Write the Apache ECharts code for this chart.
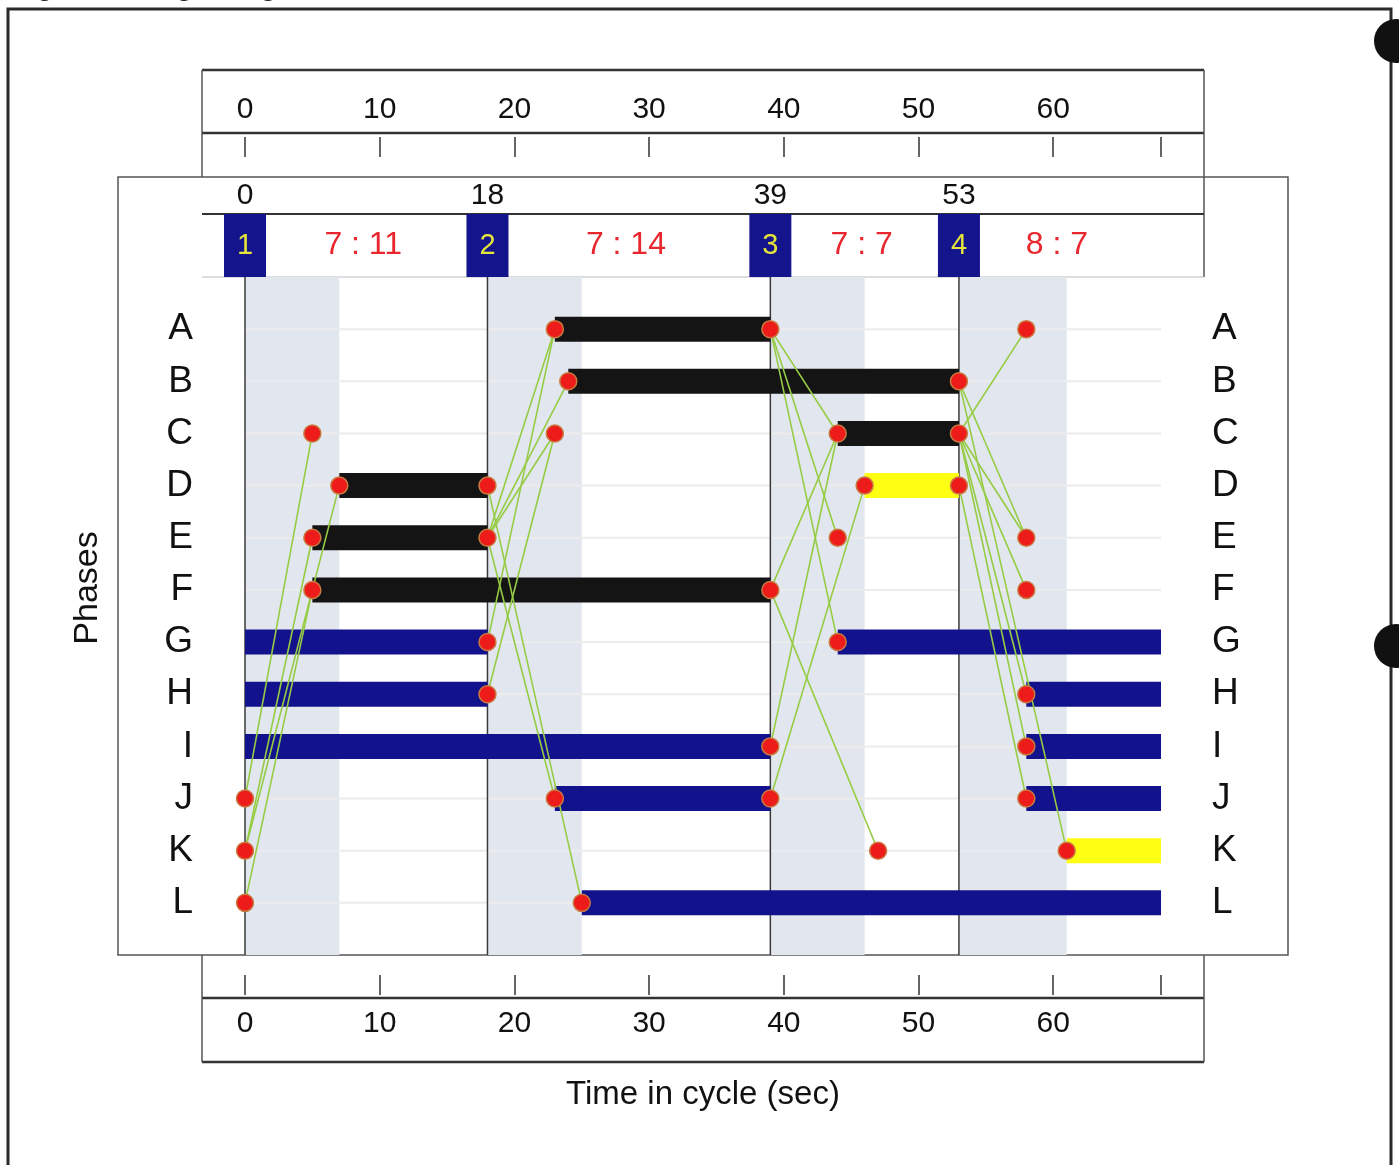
<!DOCTYPE html>
<html><head><meta charset="utf-8">
<script src="https://cdn.jsdelivr.net/npm/echarts@6/dist/echarts.min.js"></script>
<style>html,body{margin:0;padding:0;background:#fff}#c{width:1399px;height:1165px}</style>
</head><body><div id="c"></div>
<script>
// ---------- DATA ----------
const phases = ['A','B','C','D','E','F','G','H','I','J','K','L'];
const cycleLength = 68;
const stageNumbers = [1, 2, 3, 4];
const stageStarts = [0, 18, 39, 53];
const interstageTimes = [7, 7, 7, 8];
const greenTimes = [11, 14, 7, 7];
const axisTickStep = 10;

// [phase, start, end]
const blackBars = [['A',23,39],['B',24,53],['C',44,53],['D',7,18],['E',5,18],['F',5,39]];
const blueBars = [['G',0,18],['G',44,68],['H',0,18],['H',58,68],['I',0,39],['I',58,68],
                  ['J',23,39],['J',58,68],['L',25,68]];
const yellowBars = [['D',46,53],['K',61,68]];
// [phase, time]
const dots = [['A',23],['A',39],['A',58],['B',24],['B',53],['C',5],['C',23],['C',44],['C',53],
  ['D',7],['D',18],['D',46],['D',53],['E',5],['E',18],['E',44],['E',58],['F',5],['F',39],['F',58],
  ['G',18],['G',44],['H',18],['H',58],['I',39],['I',58],['J',0],['J',23],['J',39],['J',58],
  ['K',0],['K',47],['K',61],['L',0],['L',25]];
// [fromPhase, fromTime, toPhase, toTime]
const links = [
  ['J',0,'C',5],['K',0,'D',7],['K',0,'E',5],['L',0,'F',5],
  ['E',18,'A',23],['E',18,'B',24],['E',18,'C',23],['G',18,'A',23],['H',18,'C',23],['D',18,'L',25],['E',18,'J',23],
  ['A',39,'C',44],['A',39,'E',44],['A',39,'G',44],['F',39,'C',44],['F',39,'K',47],['I',39,'C',44],['J',39,'D',46],
  ['C',53,'A',58],['B',53,'E',58],['C',53,'E',58],['C',53,'F',58],['B',53,'K',61],['C',53,'H',58],['C',53,'I',58],['D',53,'J',58]
];

// ---------- BUILD ----------
const idx = p => phases.indexOf(p);
const FONT = "'Liberation Sans', Arial, sans-serif";
const barData = arr => arr.map(b => [b[1], b[2], idx(b[0])]);
const barRender = color => (params, api) => {
  const s = api.coord([api.value(0), api.value(2)]);
  const e = api.coord([api.value(1), api.value(2)]);
  return {type:'rect', shape:{x:s[0], y:s[1]-12.5, width:e[0]-s[0], height:25}, style:{fill:color}};
};
const shadeData = stageStarts.map((s,i) => [s, s + interstageTimes[i]]);
const headerData = stageStarts.map((s,i) => [s, stageNumbers[i], interstageTimes[i], greenTimes[i],
  i < stageStarts.length-1 ? stageStarts[i+1] : cycleLength]);

const rowMin = -1, rowMax = phases.length;
const G = {left:245, width:916};
const phaseLabel = v => (v >= 0 && v < phases.length) ? phases[v] : '';
const timeAxis = (grid, pos, margin) => ({
  gridIndex:grid, type:'value', min:0, max:cycleLength, interval:axisTickStep, position:pos,
  axisLine:{show:false, onZero:false}, splitLine:{show:false},
  axisTick:{inside:true, length:20, lineStyle:{color:'#333', width:1.5}},
  axisLabel:{margin:margin, fontSize:30, color:'#111', fontFamily:FONT,
    formatter:v => v === cycleLength ? '' : String(v)}
});

const option = {
  animation:false,
  backgroundColor:'#fff',
  textStyle:{fontFamily:FONT},
  grid:[
    {left:G.left, width:G.width, top:277, height:678},
    {left:G.left, width:G.width, top:137, height:40},
    {left:G.left, width:G.width, top:177, height:100},
    {left:G.left, width:G.width, top:955, height:40}
  ],
  xAxis:[
    {gridIndex:0, type:'value', min:0, max:cycleLength, show:false},
    timeAxis(1, 'top', 12),
    {gridIndex:2, type:'value', min:0, max:cycleLength, show:false},
    Object.assign(timeAxis(3, 'bottom', 14), {
      name:'Time in cycle (sec)', nameLocation:'middle', nameGap:83,
      nameTextStyle:{fontSize:33, color:'#111', fontFamily:FONT}})
  ],
  yAxis:[
    {gridIndex:0, type:'value', min:rowMin, max:rowMax, interval:1, inverse:true,
      axisLine:{show:false}, axisTick:{show:false}, splitLine:{show:false},
      axisLabel:{formatter:phaseLabel, fontSize:37, margin:52, color:'#111', fontFamily:FONT}},
    {gridIndex:0, type:'value', min:rowMin, max:rowMax, interval:1, inverse:true, position:'right',
      axisLine:{show:false}, axisTick:{show:false}, splitLine:{show:false},
      axisLabel:{formatter:phaseLabel, fontSize:37, margin:51, color:'#111', fontFamily:FONT}},
    {gridIndex:1, type:'value', min:0, max:1, show:false},
    {gridIndex:2, type:'value', min:0, max:100, show:false},
    {gridIndex:3, type:'value', min:0, max:1, show:false}
  ],
  series:[
    // interstage shading
    {type:'custom', xAxisIndex:0, yAxisIndex:0, data:shadeData, encode:{x:[0,1]}, z:1, silent:true,
      renderItem:(params, api) => {
        const a = api.coord([api.value(0), rowMin]);
        const b = api.coord([api.value(1), rowMax]);
        return {type:'rect', shape:{x:a[0], y:a[1], width:b[0]-a[0], height:b[1]-a[1]}, style:{fill:'#e2e7ef'}};
      }},
    // faint row lines
    {type:'custom', xAxisIndex:0, yAxisIndex:0, data:phases.map((p,i)=>[i]), encode:{y:0}, z:2, silent:true,
      renderItem:(params, api) => {
        const a = api.coord([0, api.value(0)]);
        const b = api.coord([cycleLength, api.value(0)]);
        return {type:'line', shape:{x1:a[0], y1:a[1], x2:b[0], y2:b[1]}, style:{stroke:'#ececec', lineWidth:2}};
      }},
    // stage start lines
    {type:'custom', xAxisIndex:0, yAxisIndex:0, data:stageStarts.map(s=>[s]), encode:{x:0}, z:3, silent:true,
      renderItem:(params, api) => {
        const a = api.coord([api.value(0), rowMin]);
        const b = api.coord([api.value(0), rowMax]);
        return {type:'line', shape:{x1:a[0], y1:a[1], x2:b[0], y2:b[1]}, style:{stroke:'#3a3a3a', lineWidth:1.5}};
      }},
    {type:'custom', name:'black', xAxisIndex:0, yAxisIndex:0, data:barData(blackBars), encode:{x:[0,1], y:2}, z:4, renderItem:barRender('#141414')},
    {type:'custom', name:'blue', xAxisIndex:0, yAxisIndex:0, data:barData(blueBars), encode:{x:[0,1], y:2}, z:4, renderItem:barRender('#12128c')},
    {type:'custom', name:'yellow', xAxisIndex:0, yAxisIndex:0, data:barData(yellowBars), encode:{x:[0,1], y:2}, z:4, renderItem:barRender('#ffff14')},
    // intergreen links
    {type:'custom', xAxisIndex:0, yAxisIndex:0, z:5,
      data:links.map(l => [l[1], idx(l[0]), l[3], idx(l[2])]), encode:{x:[0,2], y:[1,3]},
      renderItem:(params, api) => {
        const a = api.coord([api.value(0), api.value(1)]);
        const b = api.coord([api.value(2), api.value(3)]);
        return {type:'line', shape:{x1:a[0], y1:a[1], x2:b[0], y2:b[1]}, style:{stroke:'#96cc44', lineWidth:1.6}};
      }},
    // dots
    {type:'scatter', xAxisIndex:0, yAxisIndex:0, z:6, symbolSize:17,
      data:dots.map(d => [d[1], idx(d[0])]),
      itemStyle:{color:'#ee1b1b', borderColor:'#c97a40', borderWidth:1.5, opacity:1}},
    // header: stage boxes and labels
    {type:'custom', xAxisIndex:2, yAxisIndex:3, data:headerData, encode:{x:[0,4]}, z:5,
      renderItem:(params, api) => {
        const s = api.value(0), n = api.value(1), ig = api.value(2), gr = api.value(3), nx = api.value(4);
        const bTop = api.coord([s, 63]), bBot = api.coord([s, 0]);
        const lab = api.coord([s, 82]);
        const mid = api.coord([(s + nx) / 2, 31.5]);
        return {type:'group', children:[
          {type:'rect', shape:{x:bTop[0]-21, y:bTop[1], width:42, height:bBot[1]-bTop[1]}, style:{fill:'#14148c'}},
          {type:'text', style:{x:bTop[0], y:(bTop[1]+bBot[1])/2, text:String(n), fill:'#e4e43a',
            font:'29px ' + FONT, align:'center', verticalAlign:'middle'}},
          {type:'text', style:{x:lab[0], y:lab[1]+1, text:String(s), fill:'#111',
            font:'30px ' + FONT, align:'center', verticalAlign:'middle'}},
          {type:'text', style:{x:mid[0] - 3, y:mid[1], text:ig + ' : ' + gr, fill:'#e8262e',
            font:'32px ' + FONT, align:'center', verticalAlign:'middle'}}
        ]};
      }}
  ],
  graphic:[
    // window title (cut off at top) and frame
    {type:'text', left:10, top:-27, style:{text:'Signal Timings Diagram', font:'bold 28px ' + FONT, fill:'#111'}},
    {type:'polyline', shape:{points:[[8,1165],[8,9],[1391,9],[1391,1165]]}, style:{stroke:'#2a2a2a', lineWidth:3, fill:null}},
    {type:'circle', shape:{cx:1396, cy:41, r:22}, style:{fill:'#111'}},
    {type:'circle', shape:{cx:1396, cy:646, r:22}, style:{fill:'#111'}},
    // y axis title
    {type:'text', x:88, y:588, rotation:Math.PI/2,
      style:{text:'Phases', font:'34px ' + FONT, fill:'#111', align:'center', verticalAlign:'middle'}},
    // top axis box
    {type:'line', shape:{x1:202, y1:70, x2:1204, y2:70}, style:{stroke:'#333', lineWidth:2.5}},
    {type:'line', shape:{x1:202, y1:133, x2:1204, y2:133}, style:{stroke:'#333', lineWidth:2.5}},
    {type:'line', shape:{x1:202, y1:70, x2:202, y2:177}, style:{stroke:'#555', lineWidth:1.5}},
    {type:'line', shape:{x1:1204, y1:70, x2:1204, y2:277}, style:{stroke:'#555', lineWidth:1.5}},
    // inner box and header rows
    {type:'rect', shape:{x:118, y:177, width:1170, height:778}, style:{stroke:'#555', lineWidth:1.5, fill:null}},
    {type:'line', shape:{x1:202, y1:214, x2:1204, y2:214}, style:{stroke:'#333', lineWidth:2}},
    {type:'line', shape:{x1:202, y1:277, x2:1204, y2:277}, style:{stroke:'#bbb', lineWidth:1}},
    // bottom axis box
    {type:'line', shape:{x1:202, y1:998, x2:1204, y2:998}, style:{stroke:'#333', lineWidth:2.5}},
    {type:'line', shape:{x1:202, y1:1062, x2:1204, y2:1062}, style:{stroke:'#333', lineWidth:2.5}},
    {type:'line', shape:{x1:202, y1:955, x2:202, y2:1062}, style:{stroke:'#555', lineWidth:1.5}},
    {type:'line', shape:{x1:1204, y1:955, x2:1204, y2:1062}, style:{stroke:'#555', lineWidth:1.5}}
  ]
};
const chart = echarts.init(document.getElementById('c'), null, {renderer:'canvas'});
chart.setOption(option);
</script></body></html>
